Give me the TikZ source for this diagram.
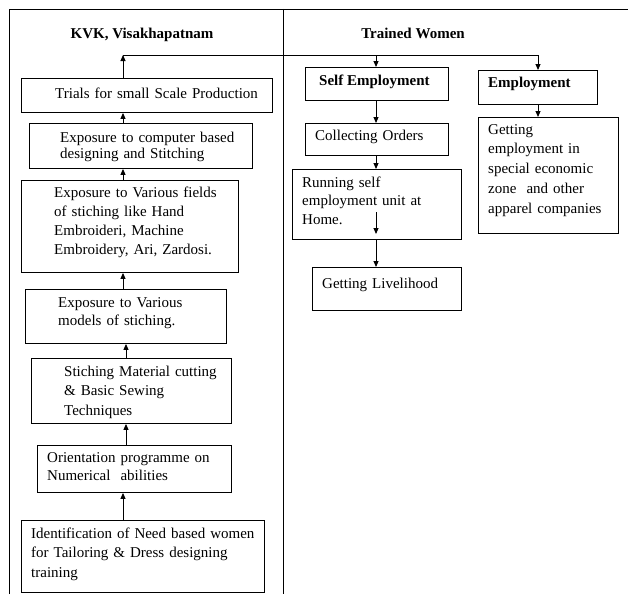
\documentclass[tikz,border=0pt]{standalone}
\usepackage{fontspec}
\setmainfont{Liberation Serif}
\usetikzlibrary{arrows.meta}
\begin{document}
\begin{tikzpicture}[x=1pt,y=-1pt,
  box/.style={draw, line width=0.9pt, inner sep=0pt, anchor=north west},
  txt/.style={anchor=base west, inner sep=0pt, text width=260pt, align=left, font=\fontsize{15}{19}\selectfont},
  ttl/.style={anchor=base, inner sep=0pt, font=\fontsize{15}{18}\selectfont\bfseries},
  btxt/.style={anchor=base west, inner sep=0pt, font=\fontsize{15}{18}\selectfont\bfseries},
  arr/.style={line width=0.9pt, -{Triangle[length=6pt,width=5pt]}},
  ln/.style={line width=0.9pt}]
\useasboundingbox (0,0) rectangle (628,594);
% frame
\draw[ln] (9,594) -- (9,9) -- (628,9);
\draw[ln] (283,9) -- (283,594);
% titles
\node[ttl] (kvk) at (142,38) {KVK, Visakhapatnam};
\node[ttl] (tw) at (413,38) {Trained Women};
% left boxes
\node[box, minimum width=251pt, minimum height=34pt] (trials) at (21,78) {};
\node[box, minimum width=223pt, minimum height=45pt] (comp) at (29,123) {};
\node[box, minimum width=217pt, minimum height=92pt] (fields) at (21,180) {};
\node[box, minimum width=201pt, minimum height=54pt] (models) at (25,289) {};
\node[box, minimum width=200pt, minimum height=65pt] (material) at (31,358) {};
\node[box, minimum width=194pt, minimum height=47pt] (orient) at (37,445) {};
\node[box, minimum width=243pt, minimum height=72pt] (ident) at (21,520) {};
% right boxes
\node[box, minimum width=143pt, minimum height=33pt] (self) at (305,67) {};
\node[box, minimum width=119pt, minimum height=34pt] (emp) at (478,70) {};
\node[box, minimum width=143pt, minimum height=32pt] (orders) at (305,123) {};
\node[box, minimum width=169pt, minimum height=70pt] (running) at (292,169) {};
\node[box, minimum width=149pt, minimum height=43pt] (live) at (312,267) {};
\node[box, minimum width=140pt, minimum height=116pt] (getemp) at (478,117) {};
% texts
\node[txt] (t1) at (55,98) {Trials for small Scale Production};
\node[txt, font=\fontsize{15}{16.5}\selectfont] (t2) at (60,142) {Exposure to computer based\\designing and Stitching};
\node[txt] (t3) at (54,197) {Exposure to Various fields\\of stiching like Hand\\Embroideri, Machine\\Embroidery, Ari, Zardosi.};
\node[txt, font=\fontsize{15}{18}\selectfont] (t4) at (58,307) {Exposure to Various\\models of stiching.};
\node[txt, font=\fontsize{15}{19.5}\selectfont] (t5) at (64,376) {Stiching Material cutting\\\& Basic Sewing\\Techniques};
\node[txt, font=\fontsize{15}{18}\selectfont] (t6) at (47,462) {Orientation programme on\\Numerical\ \ abilities};
\node[txt, font=\fontsize{15}{19.5}\selectfont] (t7) at (31,538) {Identification of Need based women\\for Tailoring \& Dress designing\\training};
\node[btxt] (t8) at (319,85) {Self Employment};
\node[btxt] (t9) at (488,87) {Employment};
\node[txt] (t10) at (315,140) {Collecting Orders};
\node[txt, font=\fontsize{15}{18.5}\selectfont] (t11) at (302,187) {Running self\\employment unit at\\Home.};
\node[txt] (t12) at (322,288) {Getting Livelihood};
\node[txt, font=\fontsize{15}{19.8}\selectfont] (t13) at (488,134) {Getting\\employment in\\special economic\\zone\ \ and other\\apparel companies};
% connectors
\coordinate (xa) at (123,0);
\coordinate (xb) at (126,0);
\coordinate (c1) at (123,55);
\coordinate (c3) at (376,55);
\coordinate (c2) at (538,55);
\coordinate (xr) at (376,0);
\coordinate (r1) at (376,212);
\coordinate (r2) at (376,234);
\draw[arr] (trials.north -| c1) -- (c1);
\draw[ln] (c1) -- (c2);
\draw[arr] (c3) -- (self.north -| c3);
\draw[arr] (c2) -- (emp.north -| c2);
\draw[arr] (comp.north -| xa) -- (trials.south -| xa);
\draw[arr] (fields.north -| xa) -- (comp.south -| xa);
\draw[arr] (models.north -| xa) -- (fields.south -| xa);
\draw[arr] (material.north -| xb) -- (models.south -| xb);
\draw[arr] (orient.north -| xb) -- (material.south -| xb);
\draw[arr] (ident.north -| xa) -- (orient.south -| xa);
\draw[arr] (self.south -| xr) -- (orders.north -| xr);
\draw[arr] (orders.south -| xr) -- (running.north -| xr);
\draw[arr] (r1) -- (r2);
\draw[arr] (running.south -| xr) -- (live.north -| xr);
\draw[arr] (emp.south -| c2) -- (getemp.north -| c2);
\end{tikzpicture}
\end{document}
